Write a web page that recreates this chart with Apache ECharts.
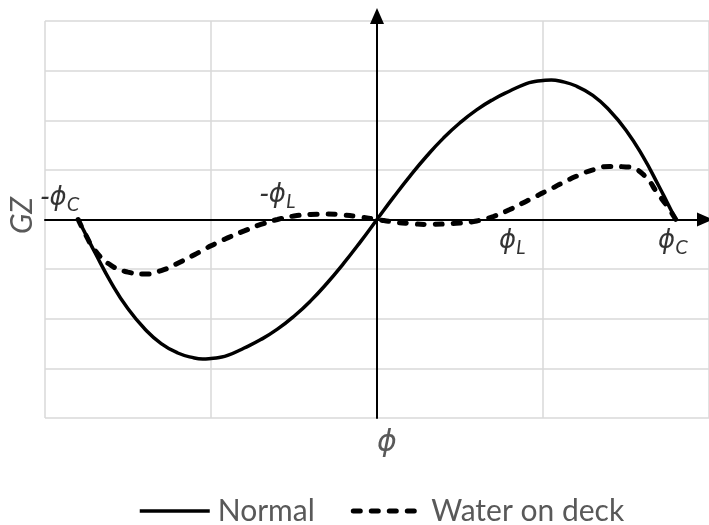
<!DOCTYPE html>
<html>
<head>
<meta charset="utf-8">
<script src="https://cdn.jsdelivr.net/npm/echarts@6/dist/echarts.min.js"></script>
<style>
  html, body { margin: 0; padding: 0; background: #fff; }
  #chart { width: 709px; height: 525px; }
</style>
</head>
<body>
<div id="chart"></div>
<script>
// Heel angle (x) shared by both GZ curves
const phi = [-1.8, -1.75, -1.7, -1.6, -1.5, -1.4, -1.3, -1.2, -1.1, -1.05, -1.0, -0.95, -0.9, -0.8, -0.7, -0.6, -0.5, -0.4, -0.3, -0.2, -0.1,
             0, 0.1, 0.2, 0.3, 0.4, 0.5, 0.6, 0.7, 0.8, 0.9, 0.95, 1.0, 1.05, 1.1, 1.2, 1.3, 1.4, 1.5, 1.6, 1.7, 1.75, 1.8];

// Righting lever, intact ship
const gzNormal = [0, -0.33, -0.66, -1.28, -1.80, -2.20, -2.50, -2.69, -2.79, -2.81, -2.80, -2.78, -2.74, -2.59, -2.42, -2.21, -1.95, -1.64, -1.28, -0.88, -0.45,
                  0, 0.45, 0.88, 1.28, 1.64, 1.95, 2.21, 2.42, 2.59, 2.74, 2.78, 2.80, 2.81, 2.79, 2.69, 2.50, 2.20, 1.80, 1.28, 0.66, 0.33, 0];

// Righting lever with water on deck
const gzWater = [0, -0.34, -0.62, -0.93, -1.06, -1.10, -1.03, -0.88, -0.71, -0.62, -0.53, -0.45, -0.37, -0.23, -0.10, 0.00, 0.07, 0.10, 0.11, 0.09, 0.05,
                 0, -0.05, -0.08, -0.10, -0.09, -0.07, -0.03, 0.06, 0.20, 0.37, 0.45, 0.54, 0.62, 0.71, 0.87, 1.00, 1.07, 1.06, 0.92, 0.48, 0.26, 0];

const seriesNames = ['Normal', 'Water on deck'];

// Marked angles on the x axis
const markPhi = [-1.8, -0.6, 0.65, 1.8];
const markText = ['-ϕ{s|C}', '-ϕ{s|L}', 'ϕ{s|L}', 'ϕ{s|C}'];

const axisTitleX = 'ϕ';
const axisTitleY = 'GZ';

const pairs = (xs, ys) => xs.map((x, i) => [x, ys[i]]);

const normalLine = { color: '#000', width: 3.5 };
const waterLine = { color: '#000', width: 5, type: [7, 11], cap: 'round' };

const markLabelStyle = [
  { align: 'right', verticalAlign: 'bottom', offset: [1, -5] },
  { align: 'center', verticalAlign: 'bottom', offset: [0, -8] },
  { align: 'left', verticalAlign: 'top', offset: [14, 6] },
  { align: 'center', verticalAlign: 'top', offset: [-3, 6] }
];

const chart = echarts.init(document.getElementById('chart'), null, { renderer: 'canvas' });

const rich = {
  s: { fontFamily: 'Lato', fontStyle: 'italic', fontSize: 20, color: '#000', padding: [12, 0, 0, 0] }
};

chart.setOption({
  animation: false,
  backgroundColor: '#fff',
  grid: { left: 45, top: 21, width: 672, height: 397, containLabel: false },
  xAxis: {
    type: 'value', min: -2, max: 2, interval: 1,
    axisLine: { onZero: true, lineStyle: { color: '#000', width: 2 },
                symbol: ['none', 'triangle'], symbolSize: [14, 16], symbolOffset: [0, -4] },
    axisTick: { show: false },
    axisLabel: { show: false },
    splitLine: { show: true, lineStyle: { color: '#d9d9d9', width: 1.5 } }
  },
  yAxis: {
    type: 'value', min: -4, max: 4, interval: 1,
    axisLine: { onZero: true, lineStyle: { color: '#000', width: 2 },
                symbol: ['none', 'triangle'], symbolSize: [14, 16], symbolOffset: [0, 5] },
    axisTick: { show: false },
    axisLabel: { show: false },
    splitLine: { show: true, lineStyle: { color: '#d9d9d9', width: 1.5 } }
  },
  legend: {
    data: [
      { name: seriesNames[0], lineStyle: normalLine },
      { name: seriesNames[1], lineStyle: waterLine }
    ],
    left: 133, top: 491,
    itemWidth: 70, itemHeight: 14, itemGap: 36,
    itemStyle: { opacity: 0 },
    textStyle: { fontFamily: 'Lato', fontSize: 30, color: '#595959', padding: [0, 0, 0, 3] }
  },
  graphic: [
    { type: 'text', left: 7, top: 197, rotation: Math.PI / 2, originX: 0, originY: 0,
      style: { text: axisTitleY, font: 'italic 30px Lato', fill: '#595959' }, silent: true },
    { type: 'text', left: 377, top: 428,
      style: { text: axisTitleX, font: 'italic 30px "DejaVu Sans"', fill: '#595959' }, silent: true }
  ],
  series: [
    {
      name: seriesNames[0], type: 'line', data: pairs(phi, gzNormal),
      smooth: true, symbol: 'none', z: 3,
      lineStyle: normalLine, itemStyle: { color: '#000' }
    },
    {
      name: seriesNames[1], type: 'line', data: pairs(phi, gzWater),
      smooth: true, symbol: 'none', z: 4,
      lineStyle: waterLine, itemStyle: { color: '#000' }
    },
    {
      name: 'marks', type: 'scatter', symbolSize: 0, z: 5, silent: true,
      data: markPhi.map((x, i) => ({
        value: [x, 0],
        label: Object.assign({
          show: true, position: [0, 0], formatter: markText[i],
          fontFamily: 'DejaVu Sans', fontStyle: 'italic', fontSize: 26, color: '#000', rich: rich
        }, markLabelStyle[i])
      }))
    }
  ]
});
</script>
</body>
</html>
